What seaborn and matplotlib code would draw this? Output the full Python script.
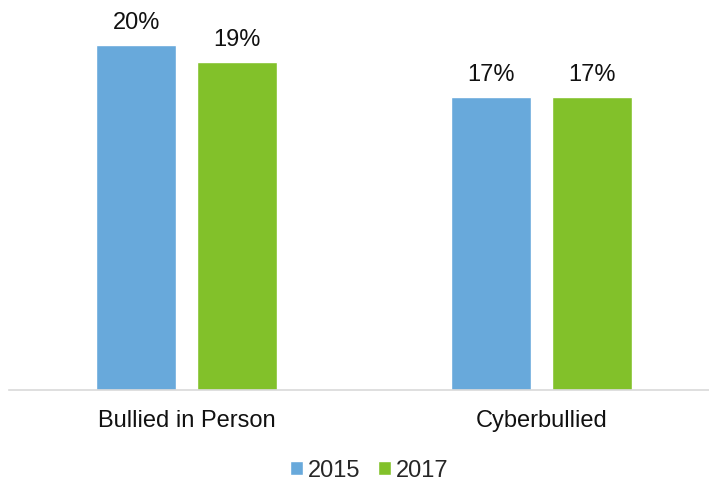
import pandas as pd
import numpy as np
import matplotlib.pyplot as plt
import seaborn as sns

categories = ["Bullied in Person", "Cyberbullied"]
years = ["2015", "2017"]
values_2015 = [20, 17]
values_2017 = [19, 17]

df = pd.DataFrame({
    "category": categories * 2,
    "year": [years[0]] * 2 + [years[1]] * 2,
    "value": values_2015 + values_2017,
})

sns.set_style("white")
plt.rcParams['font.family'] = ['Liberation Sans', 'DejaVu Sans']

fig = plt.figure(figsize=(7.09, 4.81), dpi=100)
ax = fig.add_axes([9 / 709, 90 / 481, 710 / 709, 391 / 481])

sns.barplot(data=df, x="category", y="value", hue="year",
            palette=["#68A9DB", "#82C12A"], width=0.565, gap=0.2,
            saturation=1, ax=ax)

for c in ax.containers:
    ax.bar_label(c, fmt="%d%%", padding=8.5, fontsize=17, color="#111111")

ax.set_xlim(-0.5, 1.5)
ax.set_ylim(0, 22.67)
ax.set_xlabel("")
ax.set_ylabel("")
ax.set_yticks([])
ax.tick_params(axis="x", length=0, pad=14, labelsize=17, labelcolor="#111111")
for s in ["top", "right", "left"]:
    ax.spines[s].set_visible(False)
ax.spines["bottom"].set_color("#D9D9D9")
ax.spines["bottom"].set_linewidth(1.2)

sns.move_legend(ax, "center", bbox_to_anchor=(369 / 709, 1 - 471 / 481),
                bbox_transform=fig.transFigure, ncol=2, frameon=False,
                title=None, fontsize=17, handlelength=0.55, handleheight=0.55,
                handletextpad=0.2, columnspacing=0.75, borderpad=0)

fig.savefig("out.png", dpi=100)
